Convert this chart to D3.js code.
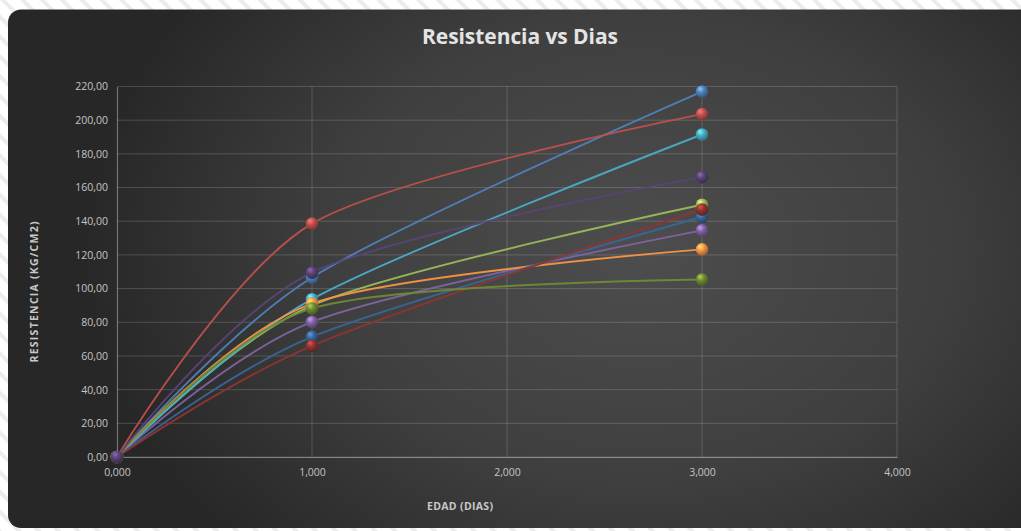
<!DOCTYPE html>
<html>
<head>
<meta charset="utf-8">
<script src="https://cdn.jsdelivr.net/npm/d3@7"></script>
<style>
  html, body { margin: 0; padding: 0; background: #ffffff; }
  svg { display: block; }
</style>
</head>
<body>
<svg id="chart" width="1021" height="531"></svg>
<script>
// ---------- DATA ----------
const ages = [0, 1, 3];                       // EDAD (DIAS)
const seriesNames = ["S1","S2","S3","S4","S5","S6","S7","S8","S9","S10"];
const s1  = [0, 106.6, 217.0];
const s2  = [0, 138.6, 203.6];
const s3  = [0,  90.0, 149.8];
const s4  = [0,  80.2, 134.6];
const s5  = [0,  93.7, 191.5];
const s6  = [0,  91.1, 123.3];
const s7  = [0,  71.3, 142.5];
const s8  = [0,  66.0, 147.0];
const s9  = [0,  88.2, 105.4];
const s10 = [0, 109.5, 166.2];
const seriesValues = [s1, s2, s3, s4, s5, s6, s7, s8, s9, s10];
const seriesColors = ["#4F81BD","#C0504D","#9BBB59","#8064A2","#4BACC6","#F79646",
                      "#3A6597","#8E3532","#6E8A36","#5A4475"];
const yTicks = [0,20,40,60,80,100,120,140,160,180,200,220];
const xTicks = [0,1,2,3,4];
const title = "Resistencia vs Dias";
const xTitle = "EDAD (DIAS)";
const yTitle = "RESISTENCIA  (KG/CM2)";

// ---------- LAYOUT ----------
const W = 1021, H = 531;
const plot = { left: 117, right: 897, top: 86.5, bottom: 457 };
const FONT = "'Open Sans', 'Noto Sans', sans-serif";
const svg = d3.select("#chart");
const defs = svg.append("defs");

// background stripes
const pat = defs.append("pattern").attr("id", "stripes")
  .attr("patternUnits", "userSpaceOnUse").attr("width", 14).attr("height", 14)
  .attr("patternTransform", "rotate(-45)");
pat.append("rect").attr("width", 14).attr("height", 14).attr("fill", "#ffffff");
pat.append("rect").attr("x", 0).attr("width", 4).attr("height", 14).attr("fill", "#ececec");

svg.append("rect").attr("width", W).attr("height", H).attr("fill", "url(#stripes)");

// panel gradient
const rg = defs.append("radialGradient").attr("id", "panelGrad")
  .attr("gradientUnits", "userSpaceOnUse")
  .attr("cx", 640).attr("cy", 250).attr("r", 560)
  .attr("gradientTransform", "translate(640,250) scale(1,0.75) translate(-640,-250)");
rg.append("stop").attr("offset", "0%").attr("stop-color", "#4d4d4d");
rg.append("stop").attr("offset", "55%").attr("stop-color", "#3f3f3f");
rg.append("stop").attr("offset", "100%").attr("stop-color", "#272727");

svg.append("rect").attr("x", 8).attr("y", 9.5).attr("width", 1040).attr("height", 518.5)
  .attr("rx", 13).attr("fill", "url(#panelGrad)");

// scales
const x = d3.scaleLinear().domain([0, 4]).range([plot.left, plot.right]);
const y = d3.scaleLinear().domain([0, 220]).range([plot.bottom, plot.top]);
const fmtY = v => d3.format(".2f")(v).replace(".", ",");
const fmtX = v => d3.format(".3f")(v).replace(".", ",");

// gridlines
const grid = svg.append("g");
grid.selectAll("line.h").data(yTicks).join("line")
  .attr("x1", plot.left).attr("x2", plot.right)
  .attr("y1", d => y(d)).attr("y2", d => y(d))
  .attr("stroke", "rgba(255,255,255,0.17)").attr("stroke-width", 1);
grid.selectAll("line.v").data(xTicks.slice(1)).join("line")
  .attr("x1", d => x(d)).attr("x2", d => x(d))
  .attr("y1", plot.top).attr("y2", plot.bottom)
  .attr("stroke", "rgba(255,255,255,0.17)").attr("stroke-width", 1);

// axes
const yAxis = d3.axisLeft(y).tickValues(yTicks).tickFormat(fmtY).tickSize(0).tickPadding(9);
const xAxis = d3.axisBottom(x).tickValues(xTicks).tickFormat(fmtX).tickSize(0).tickPadding(12);
const gy = svg.append("g").attr("transform", `translate(${plot.left},0)`).call(yAxis);
const gx = svg.append("g").attr("transform", `translate(0,${plot.bottom})`).call(xAxis);
[gy, gx].forEach(g => {
  g.select(".domain").attr("stroke", "rgba(255,255,255,0.35)").attr("stroke-width", 1.2);
  g.selectAll("text").attr("fill", "#c4c4c4")
    .attr("font-family", FONT).attr("font-size", 10.5);
});

// title
svg.append("text").attr("x", 520).attr("y", 44).attr("text-anchor", "middle")
  .attr("font-family", FONT).attr("font-weight", "bold")
  .attr("font-size", 21).attr("fill", "#e4e4e4")
  .attr("textLength", 196).attr("lengthAdjust", "spacing").text(title);

svg.append("text").attr("x", 460).attr("y", 510).attr("text-anchor", "middle")
  .attr("font-family", FONT).attr("font-weight", "bold")
  .attr("font-size", 10.5).attr("fill", "#c8c8c8")
  .attr("textLength", 66).attr("lengthAdjust", "spacing").text(xTitle);

svg.append("text").attr("transform", "translate(38,292) rotate(-90)").attr("text-anchor", "middle")
  .attr("font-family", FONT).attr("font-weight", "bold")
  .attr("font-size", 10.5).attr("fill", "#c8c8c8")
  .attr("textLength", 141).attr("lengthAdjust", "spacing").text(yTitle);

// marker gradients
seriesColors.forEach((c, i) => {
  const g = defs.append("radialGradient").attr("id", "ball" + i)
    .attr("cx", "40%").attr("cy", "35%").attr("r", "65%").attr("fx", "35%").attr("fy", "28%");
  g.append("stop").attr("offset", "0%").attr("stop-color", d3.color(c).brighter(1.3));
  g.append("stop").attr("offset", "45%").attr("stop-color", c);
  g.append("stop").attr("offset", "100%").attr("stop-color", d3.color(c).darker(1.2));
});

// lines (Excel-style smoothing)
const line = d3.line().x((d, i) => x(ages[i])).y(d => y(d)).curve(d3.curveCardinal.tension(0.15));
const lines = svg.append("g");
seriesValues.forEach((vals, i) => {
  lines.append("path").datum(vals).attr("d", line)
    .attr("fill", "none").attr("stroke", seriesColors[i]).attr("stroke-width", 1.9)
    .attr("stroke-opacity", 0.95);
});

// markers
const marks = svg.append("g");
seriesValues.forEach((vals, i) => {
  marks.selectAll(null).data(vals).join("circle")
    .attr("cx", (d, j) => x(ages[j])).attr("cy", d => y(d)).attr("r", 6.3)
    .attr("fill", `url(#ball${i})`);
});
</script>
</body>
</html>
